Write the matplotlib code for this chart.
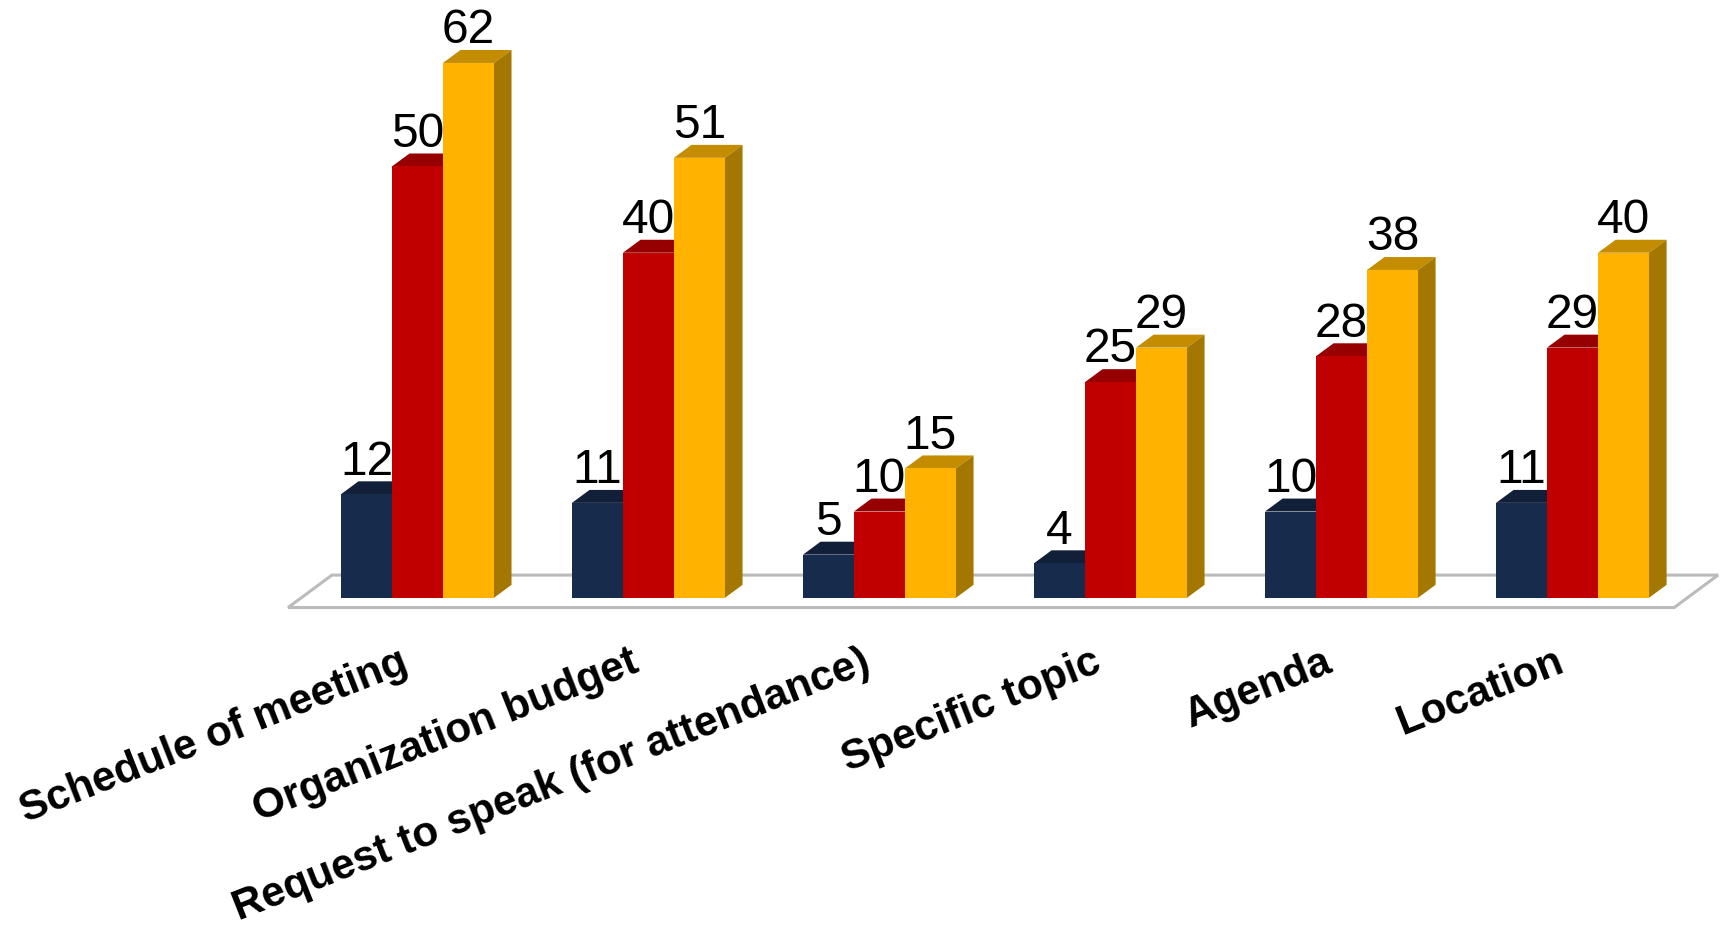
import matplotlib
matplotlib.use("Agg")
import matplotlib.pyplot as plt
from matplotlib.patches import Polygon

plt.rcParams['font.family'] = ['Liberation Sans', 'DejaVu Sans']

# values
categories = ["Schedule of meeting", "Organization budget", "Request to speak (for attendance)",
              "Specific topic", "Agenda", "Location"]
series_1 = [12, 11, 5, 4, 10, 11]
series_2 = [50, 40, 10, 25, 28, 29]
series_3 = [62, 51, 15, 29, 38, 40]

colors = ["#172B4D", "#C00000", "#FFB300"]
top_colors = ["#112038", "#960000", "#C48C00"]
side_colors = ["#10203A", "#800000", "#A37700"]

bar_w = 0.2208
depth_x = 0.076   # fake 3d offset
depth_y = 1.5

fig = plt.figure(figsize=(17.25, 9.29), dpi=100)
ax = fig.add_axes([0, 0, 1, 1])
ax.set_xlim(-1.807, 5.66)
ax.set_ylim(-38.28, 69.41)
ax.axis("off")

# floor of the chart
floor = Polygon([(-0.56, -1.13), (5.44, -1.13), (5.63, 2.63), (-0.37, 2.63)],
                closed=True, facecolor="white", edgecolor="#BBBBBB", linewidth=2.2, zorder=1)
ax.add_patch(floor)

all_series = [series_1, series_2, series_3]
for s, values in enumerate(all_series):
    offset = (s - 1) * bar_w
    for i, v in enumerate(values):
        left = i + offset - bar_w / 2
        right = left + bar_w
        z = 2 + s
        ax.add_patch(Polygon([(left, v), (right, v), (right + depth_x, v + depth_y), (left + depth_x, v + depth_y)],
                             closed=True, facecolor=top_colors[s], edgecolor="none", zorder=z))
        ax.add_patch(Polygon([(right, 0), (right + depth_x, depth_y), (right + depth_x, v + depth_y), (right, v)],
                             closed=True, facecolor=side_colors[s], edgecolor="none", zorder=z))
        ax.bar(left + bar_w / 2, v, width=bar_w, color=colors[s], zorder=z + 0.5)
        ax.text(left + bar_w / 2, v + 2.4, str(v), ha="center", va="baseline", fontsize=34.5,
                color="black", zorder=10)

# rotated category labels, right end hangs under the group
for i, name in enumerate(categories):
    ax.text(i - 0.08, -5.0, name, rotation=21.5, rotation_mode="anchor", ha="right", va="top",
            fontsize=30.4, fontweight="bold", color="black", zorder=10)

fig.savefig("out.png", dpi=100)
